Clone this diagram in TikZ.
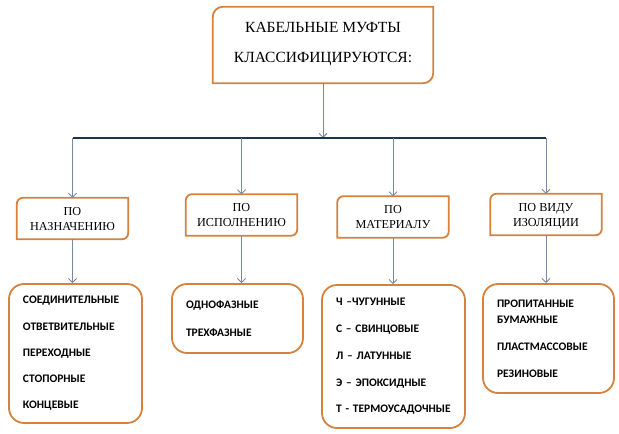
\documentclass[tikz,border=0pt]{standalone}
\usepackage{fontspec}
\setmainfont{Liberation Serif}
\newfontfamily\calibri{Carlito}
\usetikzlibrary{positioning,arrows.meta}
\definecolor{frame}{RGB}{214,130,60}
\definecolor{arrowc}{RGB}{120,136,162}
\definecolor{busc}{RGB}{30,52,72}
\tikzset{>={Straight Barb[length=4pt,width=8pt]},
  head/.style={inner sep=0pt,minimum width=220pt,minimum height=76pt,align=center,
    font=\fontsize{15.5}{30}\selectfont,text depth=5pt},
  kind/.style={inner sep=0pt,minimum width=111pt,minimum height=41pt,align=center,
    font=\fontsize{12.2}{15}\selectfont,text depth=0pt},
  list/.style={inner xsep=14pt,inner ysep=0pt,align=left,draw=frame,line width=1.8pt,
    rounded corners=15pt,font=\calibri\bfseries\fontsize{11.5}{13}\selectfont},
  conn/.style={->,draw=arrowc,line width=0.9pt},
  tab/.style={draw=frame,line width=1.8pt}}
\newcommand\tabline[2]{\draw[tab] ([yshift=-#2]#1.north west) arc[start angle=180,end angle=90,radius=#2]
  -- (#1.north east) -- ([yshift=#2]#1.south east) arc[start angle=0,end angle=-90,radius=#2]
  -- (#1.south west) -- cycle;}
\begin{document}
\begin{tikzpicture}[x=1pt,y=-1pt]
\useasboundingbox[fill=white] (0,0) rectangle (619,434);
\node[head] (top) at (323,45) {КАБЕЛЬНЫЕ МУФТЫ\\КЛАССИФИЦИРУЮТСЯ:};
\tabline{top}{10pt}
\coordinate (bus) at (323,138);
\node[kind] (k1) at (72.5,218.5) {ПО\\НАЗНАЧЕНИЮ};
\node[kind] (k2) at (241.5,215) {ПО\\ИСПОЛНЕНИЮ};
\node[kind] (k3) at (393,217) {ПО\\МАТЕРИАЛУ};
\node[kind] (k4) at (546,214.5) {ПО ВИДУ\\ИЗОЛЯЦИИ};
\foreach \k in {k1,k2,k3,k4} {\tabline{\k}{6pt}}
\node[list,text width=105pt,minimum height=139pt] (l1) at (75.5,353.5)
  {СОЕДИНИТЕЛЬНЫЕ\\[13.3pt]ОТВЕТВИТЕЛЬНЫЕ\\[13.3pt]ПЕРЕХОДНЫЕ\\[13.3pt]СТОПОРНЫЕ\\[13.3pt]КОНЦЕВЫЕ};
\node[list,text width=103pt,minimum height=69pt] (l2) at (237.5,318.5)
  {ОДНОФАЗНЫЕ\\[15pt]ТРЕХФАЗНЫЕ};
\node[list,text width=115pt,minimum height=143pt] (l3) at (393.5,356.5)
  {Ч –ЧУГУННЫЕ\\[13.7pt]С – СВИНЦОВЫЕ\\[13.7pt]Л – ЛАТУННЫЕ\\[13.7pt]Э – ЭПОКСИДНЫЕ\\[13.7pt]Т - ТЕРМОУСАДОЧНЫЕ};
\node[list,text width=103pt,minimum height=109pt] (l4) at (548.5,338.5)
  {ПРОПИТАННЫЕ\\[3pt]БУМАЖНЫЕ\\[14pt]ПЛАСТМАССОВЫЕ\\[14pt]РЕЗИНОВЫЕ};
\draw[conn] (top.south) -- (top.south |- bus);
\draw[busc,line width=1.6pt] (k1.north |- bus) -- (k4.north |- bus);
\foreach \k/\l in {k1/l1,k2/l2,k3/l3,k4/l4} {
  \draw[conn] (\k.north |- bus) -- (\k.north);
  \draw[conn] (\k.south) -- (\k.south |- \l.north);
}
\end{tikzpicture}
\end{document}
